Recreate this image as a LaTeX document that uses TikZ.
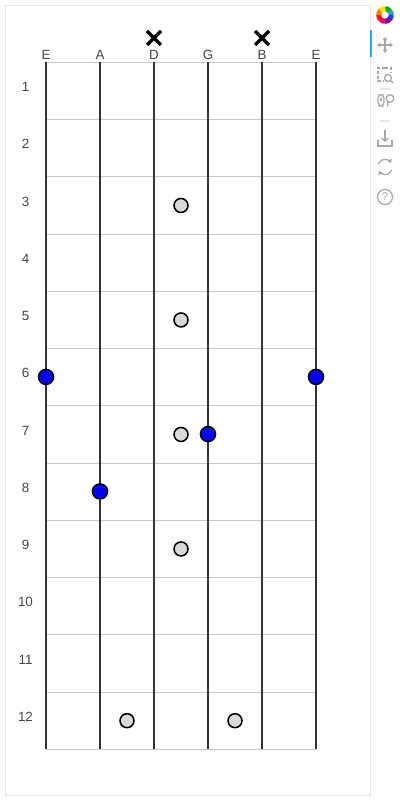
\documentclass[tikz,border=0pt]{standalone}
\usepackage{fontspec}
\setmainfont{Liberation Sans}
\usetikzlibrary{arrows.meta}
\definecolor{framegray}{HTML}{E6E6E6}
\definecolor{fretgray}{HTML}{C8C8C8}
\definecolor{stringgray}{HTML}{333333}
\definecolor{labelgray}{HTML}{444444}
\definecolor{markgray}{HTML}{D9D9D9}
\definecolor{toolgray}{HTML}{A8A8A8}
\definecolor{activeblue}{HTML}{26AAE1}

\begin{document}
\begin{tikzpicture}[x= 0.025cm, y= -0.025cm,
	every node/.style= {font= \fontsize{9.5}{11}\selectfont, text= labelgray, inner sep= 0pt},
	fretline/.style= {draw= fretgray, line width= 0.7pt},
	stringline/.style= {draw= stringgray, line width= 0.75pt},
	marker/.style= {draw= black, fill= markgray, line width= 1.1pt},
	tone/.style= {draw= black, fill= blue, line width= 1.1pt},
	mute/.style= {draw= black, line width= 2.5pt},
	tool/.style= {draw= toolgray, line width= 0.9pt}]
	\useasboundingbox (0, 0) rectangle (400, 800);
	\draw[framegray, line width= 0.7pt](5, 5) rectangle (370, 795); %外枠

	\foreach \f in {0, ..., 12}{
		\coordinate (fl\f) at (46, 62.3+57.25*\f);
		\coordinate (fr\f) at (316, 62.3+57.25*\f);
		\draw[fretline](fl\f)-- (fr\f); %フレット
	}
	\foreach \s [count= \i from 0] in {E, A, D, G, B, E}{
		\coordinate (st\i) at (46+54*\i, 62.3);
		\coordinate (sb\i) at (46+54*\i, 749.3);
		\draw[stringline](st\i)-- (sb\i); %弦
		\node (name\i) at (46+54*\i, 55) {\s}; %弦名
	}
	\foreach \f in {1, ..., 12}{
		\node (num\f) at (25.5, 62.3+57.25*\f-28.6-4) {\f}; %フレット番号
	}

	\draw[mute](154, 38) +(-7, -7)-- +(7, 7) +(-7, 7)-- +(7, -7); %ミュート D
	\draw[mute](262, 38) +(-7, -7)-- +(7, 7) +(-7, 7)-- +(7, -7); %ミュート B

	\foreach \f in {3, 5, 7, 9}{
		\path[marker](181, 62.3+57.25*\f-28.6) circle [radius= 7]; %ポジションマーク
	}
	\path[marker](127, 720.7) circle [radius= 7];
	\path[marker](235, 720.7) circle [radius= 7];

	\path[tone](46, 376.9) circle [radius= 7.5]; %6弦
	\path[tone](316, 376.9) circle [radius= 7.5]; %1弦
	\path[tone](208, 434.1) circle [radius= 7.5]; %3弦
	\path[tone](100, 491.4) circle [radius= 7.5]; %5弦

	% ツールバー
	\coordinate (logo) at (385, 15);
	\foreach \c [count= \k from 0] in {green!70!black, cyan!80!black, blue!80, violet, magenta, red!90, orange, yellow!90!orange}{
		\draw[\c, line width= 3.6pt](logo) ++(\k*45-90:6.3) arc [start angle= \k*45-90, end angle= \k*45-42, radius= 6.3];
	}
	\fill[activeblue](369.6, 30) rectangle (371.8, 57); %選択中
	\draw[tool, -{Triangle[width= 3.4pt, length= 2.4pt]}](385, 45)-- (377, 45); %パン
	\draw[tool, -{Triangle[width= 3.4pt, length= 2.4pt]}](385, 45)-- (393, 45);
	\draw[tool, -{Triangle[width= 3.4pt, length= 2.4pt]}](385, 45)-- (385, 37);
	\draw[tool, -{Triangle[width= 3.4pt, length= 2.4pt]}](385, 45)-- (385, 53);
	\draw[tool, dash pattern= on 2pt off 1.5pt](385, 68)-- (378, 68)-- (378, 81)-- (383, 81); %ボックスズーム
	\draw[tool, dash pattern= on 2pt off 1.5pt](385, 68)-- (391, 68)-- (391, 72);
	\draw[tool](388, 78) circle [radius= 3.5];
	\draw[tool](390.5, 80.5)-- (393, 83);
	\draw[framegray, line width= 0.8pt](380, 89)-- (390, 89);
	\draw[tool, rounded corners= 2.5pt](378, 95) rectangle (384, 106); %ホイールズーム
	\draw[tool](381, 98)-- (381, 101);
	\draw[tool](390, 98.5) circle [radius= 3.8];
	\draw[tool](388, 102)-- (387.5, 106.5);
	\draw[framegray, line width= 0.8pt](380, 121)-- (390, 121);
	\draw[tool, -{Straight Barb[length= 2.4pt, width= 5pt]}](385, 130)-- (385, 142); %保存
	\draw[tool](378, 140)-- (378, 146)-- (392, 146)-- (392, 140);
	\draw[tool, -{Triangle[width= 3.4pt, length= 2.4pt]}](378.5, 164) arc [start angle= 200, end angle= 330, radius= 7]; %リセット
	\draw[tool, -{Triangle[width= 3.4pt, length= 2.4pt]}](391.5, 170) arc [start angle= 20, end angle= 150, radius= 7];
	\draw[tool](385, 197) circle [radius= 7.5]; %ヘルプ
	\node[text= toolgray, font= \fontsize{8}{9}\selectfont] (help) at (385, 197) {?};
\end{tikzpicture}
\end{document}
